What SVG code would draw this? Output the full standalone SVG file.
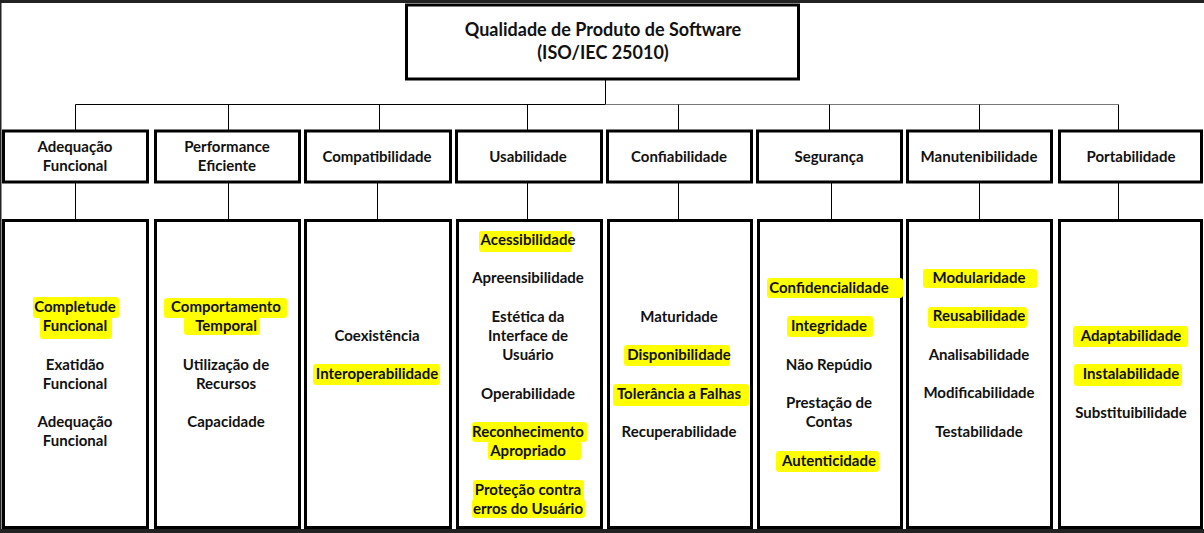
<svg xmlns="http://www.w3.org/2000/svg" width="1204" height="533" viewBox="0 0 1204 533">
<style>
.box{fill:#fff;stroke:#000;stroke-width:3}
.t{font-family:Lato,"Open Sans","Liberation Sans",sans-serif;font-weight:bold;font-size:15px;fill:#111;text-anchor:middle}
.title{font-size:18px}
.hl{fill:#ffff00}
.c{stroke:#000;stroke-width:1;fill:none}
</style>
<rect x="0" y="0" width="1204" height="533" fill="#fff"/>
<rect x="0" y="0" width="1204" height="3" fill="#222"/>
<rect x="0" y="529" width="1204" height="4" fill="#222"/>
<rect x="0" y="0" width="1.5" height="533" fill="#222"/>
<g id="connectors">
<path class="c" d="M605.5 80V104.5M75.5 104.5H605.5"/>
<path d="M605.5 104.5H1118.5" stroke="#777" stroke-width="1.2" fill="none"/>
<path class="c" d="M75.5 104.5V130M228.5 104.5V130M379.5 104.5V130M527.5 104.5V130M678.5 104.5V130M829.5 104.5V130M979.5 104.5V130M1118.5 104.5V130"/>
<path class="c" d="M75.5 183V219M228.5 183V219M377.5 183V219M527.5 183V219M678.5 183V219M831.5 183V219M979.5 183V219M1118.5 183V219"/>
</g>
<g id="root">
<rect class="box" x="406.5" y="5" width="392" height="74"/>
<text class="t title" x="603" y="36">Qualidade de Produto de Software</text>
<text class="t title" x="603" y="59">(ISO/IEC 25010)</text>
</g>
<g id="c1"><rect class="box" x="3.5" y="131" width="144" height="51"/><text class="t" x="75" y="152">Adequação</text><text class="t" x="75" y="171">Funcional</text></g>
<g id="c2"><rect class="box" x="155.5" y="131" width="144" height="51"/><text class="t" x="227" y="152">Performance</text><text class="t" x="227" y="171">Eficiente</text></g>
<g id="c3"><rect class="box" x="305.5" y="131" width="145" height="51"/><text class="t" x="377" y="162">Compatibilidade</text></g>
<g id="c4"><rect class="box" x="456.5" y="131" width="145" height="51"/><text class="t" x="528" y="162">Usabilidade</text></g>
<g id="c5"><rect class="box" x="607.5" y="131" width="144" height="51"/><text class="t" x="679" y="162">Confiabilidade</text></g>
<g id="c6"><rect class="box" x="757.5" y="131" width="144" height="51"/><text class="t" x="829" y="162">Segurança</text></g>
<g id="c7"><rect class="box" x="907.5" y="131" width="144" height="51"/><text class="t" x="979" y="162">Manutenibilidade</text></g>
<g id="c8"><rect class="box" x="1059.5" y="131" width="142" height="51"/><text class="t" x="1131" y="162">Portabilidade</text></g>

<g id="s1"><rect class="box" x="3.5" y="220.5" width="144" height="307"/>
<rect class="hl" x="33" y="297" width="86" height="21" rx="3"/><rect class="hl" x="40" y="316" width="72" height="23" rx="3"/>
<text class="t" x="75" y="312">Completude</text><text class="t" x="75" y="331">Funcional</text>
<text class="t" x="75" y="370">Exatidão</text><text class="t" x="75" y="389">Funcional</text>
<text class="t" x="75" y="427">Adequação</text><text class="t" x="75" y="446">Funcional</text></g>

<g id="s2"><rect class="box" x="155.5" y="220.5" width="144" height="307"/>
<rect class="hl" x="164" y="298" width="123" height="20" rx="3"/><rect class="hl" x="184" y="317" width="76" height="18" rx="3"/>
<text class="t" x="226" y="312">Comportamento</text><text class="t" x="226" y="331">Temporal</text>
<text class="t" x="226" y="370">Utilização de</text><text class="t" x="226" y="389">Recursos</text>
<text class="t" x="226" y="427">Capacidade</text></g>

<g id="s3"><rect class="box" x="305.5" y="220.5" width="145" height="307"/>
<rect class="hl" x="313" y="364" width="127" height="21" rx="3"/>
<text class="t" x="377" y="341">Coexistência</text>
<text class="t" x="377" y="379">Interoperabilidade</text></g>

<g id="s4"><rect class="box" x="457.5" y="220.5" width="144" height="307"/>
<rect class="hl" x="479" y="231" width="93" height="21" rx="3"/>
<rect class="hl" x="472" y="422" width="115" height="20" rx="3"/><rect class="hl" x="488" y="441" width="93" height="19" rx="3"/>
<rect class="hl" x="473" y="480" width="111" height="21" rx="3"/><rect class="hl" x="472" y="499" width="113" height="19" rx="3"/>
<text class="t" x="528" y="245">Acessibilidade</text>
<text class="t" x="528" y="283">Apreensibilidade</text>
<text class="t" x="528" y="322">Estética da</text><text class="t" x="528" y="341">Interface de</text><text class="t" x="528" y="360">Usuário</text>
<text class="t" x="528" y="399">Operabilidade</text>
<text class="t" x="528" y="437">Reconhecimento</text><text class="t" x="528" y="456">Apropriado</text>
<text class="t" x="528" y="495">Proteção contra</text><text class="t" x="528" y="514">erros do Usuário</text></g>

<g id="s5"><rect class="box" x="608.5" y="220.5" width="143" height="307"/>
<rect class="hl" x="624" y="345" width="106" height="21" rx="3"/>
<rect class="hl" x="613" y="384" width="136" height="22" rx="3"/>
<text class="t" x="679" y="322">Maturidade</text>
<text class="t" x="679" y="360">Disponibilidade</text>
<text class="t" x="679" y="399">Tolerância a Falhas</text>
<text class="t" x="679" y="437">Recuperabilidade</text></g>

<g id="s6"><rect class="box" x="758.5" y="220.5" width="143" height="307"/>
<rect class="hl" x="767" y="278" width="136" height="20" rx="3"/>
<rect class="hl" x="787" y="316" width="86" height="21" rx="3"/>
<rect class="hl" x="776" y="451" width="103" height="21" rx="3"/>
<text class="t" x="829" y="293">Confidencialidade</text>
<text class="t" x="829" y="331">Integridade</text>
<text class="t" x="829" y="370">Não Repúdio</text>
<text class="t" x="829" y="408">Prestação de</text><text class="t" x="829" y="427">Contas</text>
<text class="t" x="829" y="466">Autenticidade</text></g>

<g id="s7"><rect class="box" x="907.5" y="220.5" width="144" height="307"/>
<rect class="hl" x="923" y="269" width="114" height="19" rx="3"/>
<rect class="hl" x="928" y="307" width="99" height="21" rx="3"/>
<text class="t" x="979" y="283">Modularidade</text>
<text class="t" x="979" y="321">Reusabilidade</text>
<text class="t" x="979" y="360">Analisabilidade</text>
<text class="t" x="979" y="398">Modificabilidade</text>
<text class="t" x="979" y="437">Testabilidade</text></g>

<g id="s8"><rect class="box" x="1059.5" y="220.5" width="142" height="307"/>
<rect class="hl" x="1073" y="326" width="115" height="21" rx="3"/>
<rect class="hl" x="1074" y="364" width="108" height="22" rx="3"/>
<text class="t" x="1131" y="341">Adaptabilidade</text>
<text class="t" x="1131" y="379">Instalabilidade</text>
<text class="t" x="1131" y="418">Substituibilidade</text></g>
</svg>
